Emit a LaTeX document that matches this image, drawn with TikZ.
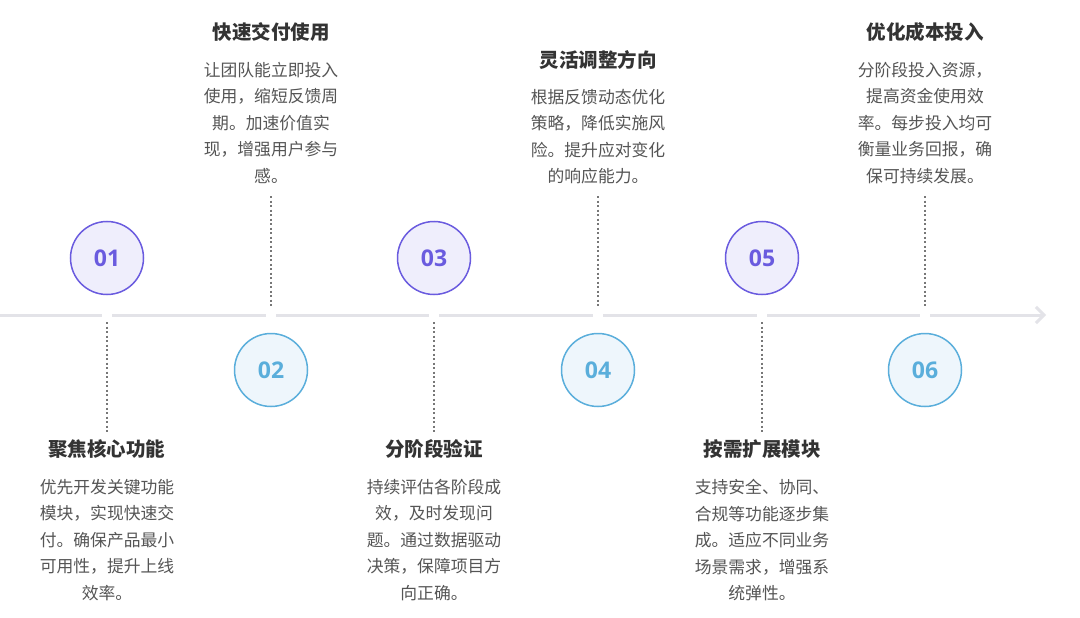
\documentclass[tikz,border=0pt]{standalone}
\usepackage{fontspec}
\setmainfont{Noto Sans CJK SC}
\newfontfamily\numfont{Open Sans}
\usetikzlibrary{arrows.meta}
\definecolor{pur}{HTML}{6A5BDF}
\definecolor{purf}{HTML}{EFEEFC}
\definecolor{blu}{HTML}{5AAEDB}
\definecolor{bluf}{HTML}{EEF6FC}
\definecolor{txt}{HTML}{555555}
\definecolor{ttl}{HTML}{333333}
\definecolor{axis}{HTML}{E3E3E8}
\tikzset{
  x=1pt,y=-1pt,
  odd/.style={circle,draw=pur,fill=purf,line width=1.5pt,minimum size=73pt,text=pur,font=\numfont\fontsize{23}{23}\selectfont\bfseries},
  even/.style={circle,draw=blu,fill=bluf,line width=1.5pt,minimum size=73pt,text=blu,font=\numfont\fontsize{23}{23}\selectfont\bfseries},
  ttlst/.style={text=ttl,font=\fontsize{19.5}{19.5}\selectfont\bfseries},
  body/.style={text=txt,align=center,anchor=north,inner sep=0pt,font=\fontsize{16.8}{26.5}\selectfont},
  dot/.style={draw=txt!80,line width=1.3pt,dash pattern=on 2pt off 2.5pt},
  gap/.style={fill=white,inner sep=0pt,minimum width=10pt,minimum height=8pt},
}
\begin{document}
\begin{tikzpicture}
\useasboundingbox (0,0) rectangle (1080,618);
\fill[white] (0,0) rectangle (1080,618);
\coordinate (s) at (0,315);
\coordinate (e) at (1046,315);
\draw[axis,line width=3pt,-{Straight Barb[length=8pt,width=16pt]}] (s) -- (e);
\foreach \x/\n in {107/g1,271/g2,434/g3,598/g4,762/g5,925/g6}{\node[gap] (\n) at (\x,315) {};}
% circles
\node[odd] (c1) at (107,258) {01};
\node[even] (c2) at (271,370) {02};
\node[odd] (c3) at (434,258) {03};
\node[even] (c4) at (598,370) {04};
\node[odd] (c5) at (762,258) {05};
\node[even] (c6) at (925,370) {06};
% titles
\node[ttlst] (t1) at (107,449) {聚焦核心功能};
\node[ttlst] (t2) at (271,32) {快速交付使用};
\node[ttlst] (t3) at (434,449) {分阶段验证};
\node[ttlst] (t4) at (598,60) {灵活调整方向};
\node[ttlst] (t5) at (762,449) {按需扩展模块};
\node[ttlst] (t6) at (925,32) {优化成本投入};
% bodies
\node[body] (b1) at (107,479) {优先开发关键功能\\模块，实现快速交\\付。确保产品最小\\可用性，提升上线\\效率。};
\node[body] (b2) at (271,62) {让团队能立即投入\\使用，缩短反馈周\\期。加速价值实\\现，增强用户参与\\感。};
\node[body] (b3) at (434,479) {持续评估各阶段成\\效，及时发现问\\题。通过数据驱动\\决策，保障项目方\\向正确。};
\node[body] (b4) at (598,89) {根据反馈动态优化\\策略，降低实施风\\险。提升应对变化\\的响应能力。};
\node[body] (b5) at (762,479) {支持安全、协同、\\合规等功能逐步集\\成。适应不同业务\\场景需求，增强系\\统弹性。};
\node[body] (b6) at (925,62) {分阶段投入资源，\\提高资金使用效\\率。每步投入均可\\衡量业务回报，确\\保可持续发展。};
% dotted connectors
\coordinate (d1a) at (107,322); \coordinate (d1b) at (107,432);
\coordinate (d3a) at (434,322); \coordinate (d3b) at (434,432);
\coordinate (d5a) at (762,322); \coordinate (d5b) at (762,432);
\coordinate (d2a) at (271,196); \coordinate (d2b) at (271,307);
\coordinate (d4a) at (598,196); \coordinate (d4b) at (598,307);
\coordinate (d6a) at (925,196); \coordinate (d6b) at (925,307);
\foreach \i in {1,...,6}{\draw[dot] (d\i a) -- (d\i b);}
\end{tikzpicture}
\end{document}
